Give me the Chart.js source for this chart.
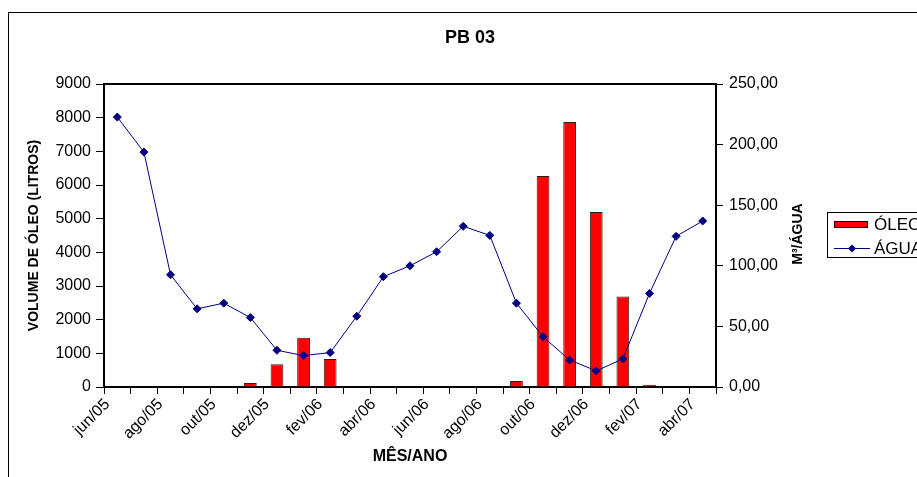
<!DOCTYPE html>
<html>
<head>
<meta charset="utf-8">
<script src="https://cdn.jsdelivr.net/npm/chart.js@4"></script>
<style>
  html, body { margin: 0; padding: 0; background: #fff; overflow: hidden; }
  #wrap { width: 917px; height: 477px; }
</style>
</head>
<body>
<div id="wrap"><canvas id="c" width="917" height="477"></canvas></div>
<script>
const months = ['jun/05','jul/05','ago/05','set/05','out/05','nov/05','dez/05','jan/06','fev/06','mar/06','abr/06','mai/06','jun/06','jul/06','ago/06','set/06','out/06','nov/06','dez/06','jan/07','fev/07','mar/07','abr/07'];
const oleoLitros = [0,0,0,0,15,120,675,1460,835,0,0,0,0,0,0,180,6270,7870,5200,2690,65,0,0];
const aguaM3 = [222.7,193.8,92.6,64.5,69.2,57.3,30.3,25.9,28.4,58.4,91.0,100.0,111.6,132.6,125.1,69.2,41.4,22.3,13.3,23.2,77.2,124.3,137.0];
const chartTitle = 'PB 03';
const leftTitle = 'VOLUME DE ÓLEO (LITROS)';
const rightTitle = 'M³/ÁGUA';
const xTitle = 'MÊS/ANO';
const seriesNames = ['ÓLEO', 'ÁGUA'];

const FONT = "'Liberation Sans', Arial, sans-serif";
const NAVY = '#000080';

const framePlugin = {
  id: 'frame',
  afterDraw(chart) {
    const ctx = chart.ctx;
    const a = chart.chartArea;
    ctx.save();
    // outer chart border
    ctx.strokeStyle = '#000';
    ctx.lineWidth = 1;
    ctx.strokeRect(8.5, 12.5, 1200, 1200);
    // plot area top border
    ctx.lineWidth = 2;
    ctx.beginPath();
    ctx.moveTo(a.left - 1, a.top);
    ctx.lineTo(a.right + 1, a.top);
    ctx.stroke();
    // chart title
    ctx.fillStyle = '#000';
    ctx.font = 'bold 18px ' + FONT;
    ctx.textAlign = 'center';
    ctx.textBaseline = 'middle';
    ctx.fillText(chartTitle, 470, 38);
    // right axis title (reads bottom to top)
    ctx.save();
    ctx.translate(798, 234);
    ctx.rotate(-Math.PI / 2);
    ctx.font = 'bold 14px ' + FONT;
    ctx.fillText(rightTitle, 0, 0);
    ctx.restore();
    // legend
    const bar = chart.data.datasets[0];
    const line = chart.data.datasets[1];
    ctx.lineWidth = 1;
    ctx.strokeStyle = '#000';
    ctx.strokeRect(827.5, 212.5, 200, 45);
    ctx.fillStyle = bar.backgroundColor;
    ctx.fillRect(834, 221, 34, 7);
    ctx.strokeRect(834.5, 221.5, 33, 6);
    ctx.strokeStyle = line.borderColor;
    ctx.beginPath();
    ctx.moveTo(834, 248.5);
    ctx.lineTo(870, 248.5);
    ctx.stroke();
    ctx.fillStyle = line.borderColor;
    ctx.beginPath();
    ctx.moveTo(852, 244.5); ctx.lineTo(856, 248.5); ctx.lineTo(852, 252.5); ctx.lineTo(848, 248.5);
    ctx.closePath(); ctx.fill();
    ctx.fillStyle = '#000';
    ctx.font = '17px ' + FONT;
    ctx.textBaseline = 'middle';
    ctx.textAlign = 'left';
    ctx.fillText(bar.label, 874, 225);
    ctx.fillText(line.label, 874, 249);
    ctx.restore();
  }
};

new Chart(document.getElementById('c'), {
  type: 'bar',
  data: {
    labels: months,
    datasets: [
      {
        type: 'bar',
        label: seriesNames[0],
        data: oleoLitros,
        yAxisID: 'yL',
        backgroundColor: '#FF0000',
        borderColor: '#222',
        borderWidth: 1,
        categoryPercentage: 1,
        barPercentage: 0.48,
        order: 1
      },
      {
        type: 'line',
        label: seriesNames[1],
        data: aguaM3,
        yAxisID: 'yR',
        borderColor: NAVY,
        backgroundColor: NAVY,
        borderWidth: 1,
        pointStyle: 'rectRot',
        pointRadius: 4,
        pointBackgroundColor: NAVY,
        pointBorderColor: NAVY,
        tension: 0,
        order: 0
      }
    ]
  },
  options: {
    responsive: false,
    animation: false,
    devicePixelRatio: 1,
    layout: { padding: { left: 22, right: 107, top: 84, bottom: 8 } },
    plugins: {
      legend: { display: false },
      tooltip: { enabled: false },
      title: { display: false }
    },
    scales: {
      x: {
        type: 'category',
        offset: true,
        grid: { display: true, offset: true, drawOnChartArea: false, drawTicks: true, tickLength: 7, color: '#000', lineWidth: 1 },
        border: { display: true, color: '#000', width: 2 },
        ticks: {
          autoSkip: false, maxRotation: 45, minRotation: 45, color: '#000', padding: 1, labelOffset: -10,
          font: { family: FONT, size: 16 },
          callback: (v, i) => (i % 2 === 0 ? months[i] : '')
        },
        title: { display: true, text: xTitle, color: '#000', font: { family: FONT, size: 16, weight: 'bold' }, padding: { top: 0, bottom: 3 } },
        afterFit(s) { s.height = 82; }
      },
      yL: {
        position: 'left',
        min: 0, max: 9000,
        grid: { display: true, drawOnChartArea: false, drawTicks: true, tickLength: 8, color: '#000', lineWidth: 1 },
        border: { display: true, color: '#000', width: 2 },
        ticks: { stepSize: 1000, color: '#000', padding: 5, font: { family: FONT, size: 16 },
          callback: v => String(v) },
        title: { display: true, text: leftTitle, color: '#000', font: { family: FONT, size: 14, weight: 'bold' }, padding: { top: 4, bottom: 4 } },
        afterFit(s) { s.width = 82; }
      },
      yR: {
        position: 'right',
        min: 0, max: 250,
        grid: { display: true, drawOnChartArea: false, drawTicks: true, tickLength: 7, color: '#000', lineWidth: 1 },
        border: { display: true, color: '#000', width: 2 },
        ticks: { stepSize: 50, color: '#000', padding: 6, font: { family: FONT, size: 16 },
          callback: v => Number(v).toFixed(2).replace('.', ',') },
        title: { display: false },
        afterFit(s) { s.width = 94; }
      }
    }
  },
  plugins: [framePlugin]
});
</script>
</body>
</html>
